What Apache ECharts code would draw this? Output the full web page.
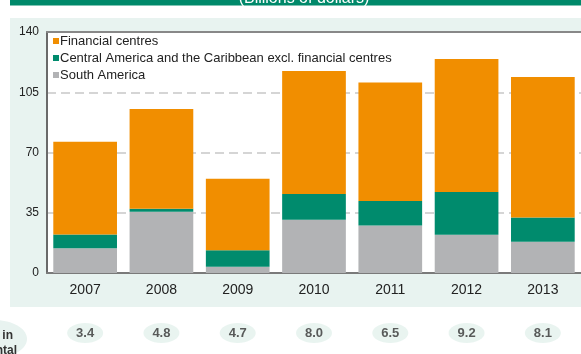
<!DOCTYPE html>
<html>
<head>
<meta charset="utf-8">
<script src="https://cdn.jsdelivr.net/npm/echarts@6/dist/echarts.min.js"></script>
<style>
  html, body { margin: 0; padding: 0; background: #ffffff; }
  #chart { width: 581px; height: 354px; }
</style>
</head>
<body>
<div id="chart"></div>
<script>
// Inward FDI by destination subregion, billions of dollars
const years = ['2007', '2008', '2009', '2010', '2011', '2012', '2013'];
const southAmerica = [14.4, 35.6, 3.7, 30.9, 27.6, 22.2, 18.1];
const centralAmericaCaribbean = [7.9, 1.7, 9.5, 15.0, 14.2, 24.8, 14.2];
const financialCentres = [53.9, 58.0, 41.6, 71.4, 68.8, 77.3, 81.6];
// Share of the region in the world total (%)
const shareOfTotal = [3.4, 4.8, 4.7, 8.0, 6.5, 9.2, 8.1];
const yTicks = [0, 35, 70, 105, 140];

const ORANGE = '#F18E00';
const GREEN = '#008B6D';
const GREY = '#B2B3B5';
const PANEL = '#E8F3F0';
const FONT = '"Liberation Sans", Arial, sans-serif';

const chart = echarts.init(document.getElementById('chart'), null, { renderer: 'canvas' });

const ellipsePath = 'path://M0,10 A18,10 0 1,1 36,10 A18,10 0 1,1 0,10 Z';

chart.setOption({
  animation: false,
  backgroundColor: '#ffffff',
  textStyle: { fontFamily: FONT },
  graphic: [
    // heading band
    { type: 'rect', z: -10, shape: { x: 10, y: 0, width: 571, height: 5.5 }, style: { fill: '#00896A' } },
    { type: 'text', z: -9, style: { x: 304, y: -1, text: '(Billions of dollars)', fill: '#ffffff',
        font: '16px ' + FONT, textAlign: 'center', textVerticalAlign: 'middle' } },
    // light panel behind the plot
    { type: 'rect', z: -10, shape: { x: 10, y: 18, width: 571, height: 289 }, style: { fill: PANEL } },
    // row caption bubble for the share values
    { type: 'ellipse', z: -10, shape: { cx: -6, cy: 339, rx: 33, ry: 19 }, style: { fill: PANEL } },
    { type: 'text', z: 5, style: { x: 13, y: 336, text: 'Share in', fill: '#333333',
        font: 'bold 12px ' + FONT, textAlign: 'right', textVerticalAlign: 'middle' } },
    { type: 'text', z: 5, style: { x: 17, y: 351, text: 'continental', fill: '#333333',
        font: 'bold 12px ' + FONT, textAlign: 'right', textVerticalAlign: 'middle' } }
  ],
  legend: {
    orient: 'vertical',
    left: 48,
    top: 29,
    itemWidth: 6,
    itemHeight: 6,
    itemGap: 3,
    icon: 'rect',
    selectedMode: false,
    data: ['Financial centres', 'Central America and the Caribbean excl. financial centres', 'South America'],
    textStyle: { fontFamily: FONT, fontSize: 13, color: '#222222', padding: [0, 0, 0, -4], lineHeight: 14 }
  },
  grid: [
    { left: 47, top: 32, width: 536, height: 241, show: true, backgroundColor: '#ffffff', borderWidth: 0 },
    { left: 47, top: 323, width: 536, height: 20 }
  ],
  xAxis: [
    {
      type: 'category', gridIndex: 0, data: years,
      axisLine: { show: true, lineStyle: { color: '#7a7a7a', width: 2 } },
      axisTick: { show: false },
      axisLabel: { color: '#222222', fontSize: 14, margin: 10, fontFamily: FONT }
    },
    {
      type: 'category', gridIndex: 0, position: 'top', data: years,
      axisLine: { show: true, lineStyle: { color: '#888888', width: 2 } },
      axisTick: { show: false }, axisLabel: { show: false }
    },
    {
      type: 'category', gridIndex: 1, data: years, show: false
    }
  ],
  yAxis: [
    {
      type: 'value', gridIndex: 0, min: 0, max: 140, interval: 35,
      axisLine: { show: true, lineStyle: { color: '#6a6a6a', width: 2 } },
      axisTick: { show: false },
      axisLabel: { color: '#222222', fontSize: 12, margin: 8, fontFamily: FONT,
        formatter: v => (yTicks.indexOf(v) >= 0 ? String(v) : '') },
      splitLine: {
        show: true,
        lineStyle: { color: '#c8c8c8', width: 1.5, type: [9, 5] }
      }
    },
    { type: 'value', gridIndex: 1, min: 0, max: 1, show: false }
  ],
  series: [
    {
      name: 'South America', type: 'bar', stack: 'fdi', xAxisIndex: 0, yAxisIndex: 0,
      barCategoryGap: '16.5%', data: southAmerica,
      itemStyle: { color: GREY }, emphasis: { disabled: true }
    },
    {
      name: 'Central America and the Caribbean excl. financial centres', type: 'bar', stack: 'fdi',
      xAxisIndex: 0, yAxisIndex: 0, barCategoryGap: '16.5%', data: centralAmericaCaribbean,
      itemStyle: { color: GREEN }, emphasis: { disabled: true }
    },
    {
      name: 'Financial centres', type: 'bar', stack: 'fdi', xAxisIndex: 0, yAxisIndex: 0,
      barCategoryGap: '16.5%', data: financialCentres,
      itemStyle: { color: ORANGE }, emphasis: { disabled: true }
    },
    {
      name: 'share', type: 'scatter', xAxisIndex: 2, yAxisIndex: 1,
      data: shareOfTotal.map((v, i) => [i, 0.5, v]),
      symbol: ellipsePath, symbolSize: [36, 20],
      itemStyle: { color: '#E4F1EC' },
      label: { show: true, position: 'inside', color: '#333333', fontWeight: 'bold', fontSize: 13,
        fontFamily: FONT, formatter: p => p.value[2].toFixed(1) },
      emphasis: { disabled: true }, silent: true
    }
  ]
});
</script>
</body>
</html>
